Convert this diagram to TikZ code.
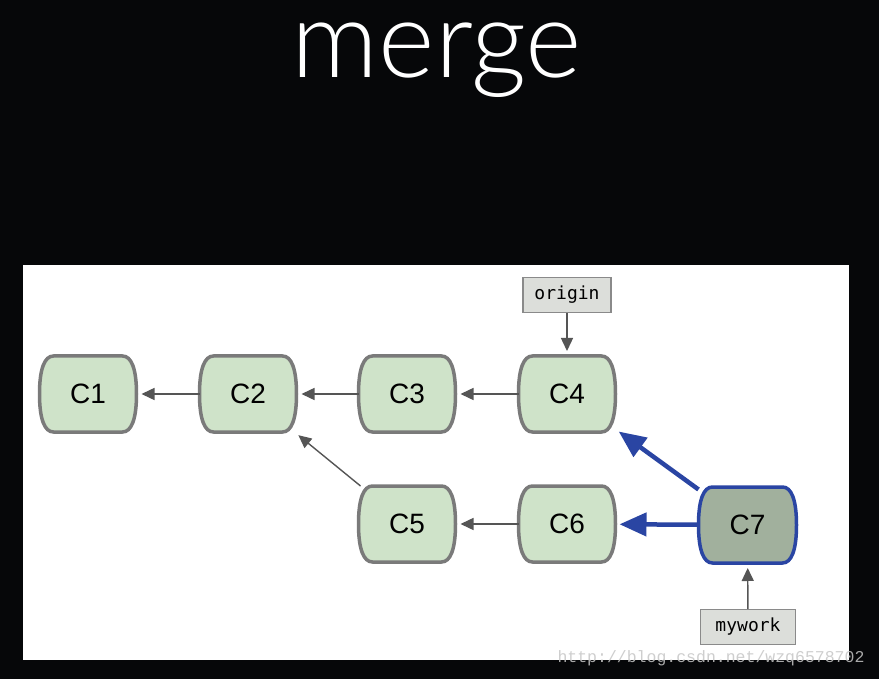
\documentclass[tikz,border=0pt]{standalone}
\usepackage{fontspec}
\setmainfont{Liberation Sans}
\newfontfamily\titlefont{Lato Light}
\newfontfamily\labelfont{DejaVu Sans Mono}
\newfontfamily\wmfont{Liberation Mono}
\usetikzlibrary{arrows.meta}
\definecolor{bg}{HTML}{060709}
\definecolor{commitfill}{HTML}{CFE3C9}
\definecolor{commitborder}{HTML}{7A7A7A}
\definecolor{headfill}{HTML}{A1B09D}
\definecolor{blueline}{HTML}{2A45A3}
\definecolor{grayarrow}{HTML}{555555}
\definecolor{labelfill}{HTML}{DCDEDA}
\definecolor{labelborder}{HTML}{8A8A8A}
\definecolor{wmgray}{HTML}{C6C6C6}
\newdimen\brlxa \newdimen\brlya \newdimen\brlxb \newdimen\brlyb \newdimen\brlym
\makeatletter
\pgfdeclareshape{barrel}{
  \inheritsavedanchors[from=rectangle]
  \inheritanchorborder[from=rectangle]
  \inheritanchor[from=rectangle]{center}
  \inheritanchor[from=rectangle]{north}
  \inheritanchor[from=rectangle]{south}
  \inheritanchor[from=rectangle]{east}
  \inheritanchor[from=rectangle]{west}
  \inheritanchor[from=rectangle]{north east}
  \inheritanchor[from=rectangle]{north west}
  \inheritanchor[from=rectangle]{south east}
  \inheritanchor[from=rectangle]{south west}
  \inheritanchor[from=rectangle]{mid}
  \inheritanchor[from=rectangle]{base}
  \backgroundpath{
    \southwest \brlxa=\pgf@x \brlya=\pgf@y
    \northeast \brlxb=\pgf@x \brlyb=\pgf@y
    \brlym=.5\brlya \advance\brlym by .5\brlyb
    \pgfpathmoveto{\pgfpoint{\brlxa+14pt}{\brlyb}}
    \pgfpathlineto{\pgfpoint{\brlxb-14pt}{\brlyb}}
    \pgfpathcurveto{\pgfpoint{\brlxb-5pt}{\brlyb}}{\pgfpoint{\brlxb}{\brlyb-13pt}}{\pgfpoint{\brlxb}{\brlym}}
    \pgfpathcurveto{\pgfpoint{\brlxb}{\brlya+13pt}}{\pgfpoint{\brlxb-5pt}{\brlya}}{\pgfpoint{\brlxb-14pt}{\brlya}}
    \pgfpathlineto{\pgfpoint{\brlxa+14pt}{\brlya}}
    \pgfpathcurveto{\pgfpoint{\brlxa+5pt}{\brlya}}{\pgfpoint{\brlxa}{\brlya+13pt}}{\pgfpoint{\brlxa}{\brlym}}
    \pgfpathcurveto{\pgfpoint{\brlxa}{\brlyb-13pt}}{\pgfpoint{\brlxa+5pt}{\brlyb}}{\pgfpoint{\brlxa+14pt}{\brlyb}}
    \pgfpathclose
  }
}
\makeatother
\tikzset{
  commit/.style={barrel, draw=commitborder, line width=3.5pt, fill=commitfill, outer sep=0pt,
    minimum width=97pt, minimum height=76pt, inner sep=0pt, font=\fontsize{28}{28}\selectfont},
  headcommit/.style={commit, draw=blueline, fill=headfill},
  reflabel/.style={draw=labelborder, fill=labelfill, line width=1.2pt, minimum width=88pt,
    minimum height=35pt, inner sep=0pt, font=\labelfont\fontsize{18}{18}\selectfont},
  parentarrow/.style={draw=grayarrow, line width=1.4pt, shorten >=5pt,
    -{Triangle[length=13pt,width=12pt]}},
  mergearrow/.style={draw=blueline, line width=4.5pt, shorten >=4pt,
    -{Triangle[length=27pt,width=23pt]}}
}
\begin{document}
\begin{tikzpicture}[x=1pt,y=-1pt]
\useasboundingbox (0,0) rectangle (879,679);
\fill[bg] (0,0) rectangle (879,679);
\fill[white] (23,265) rectangle (849,660);
\node[text=white, inner sep=0pt, anchor=base, text height=0.55em, text depth=0.2em,
  font=\titlefont\fontsize{108}{108}\selectfont] (title) at (437,78) {merge};

\node[commit] (C1) at (88,394) {C1};
\node[commit] (C2) at (248,394) {C2};
\node[commit] (C3) at (407,394) {C3};
\node[commit] (C4) at (567,394) {C4};
\node[commit] (C5) at (407,524) {C5};
\node[commit] (C6) at (567,524) {C6};
\node[headcommit, minimum width=98pt] (C7) at (747.5,525) {C7};

\node[reflabel] (origin) at (567,295) {origin};
\node[reflabel, minimum width=95pt] (mywork) at (748,627) {mywork};

\draw[parentarrow] (C2) -- (C1);
\draw[parentarrow] (C3) -- (C2);
\draw[parentarrow] (C4) -- (C3);
\draw[parentarrow] (C6) -- (C5);
\draw[parentarrow] (C5) -- (C2);
\draw[parentarrow] (origin) -- (C4);
\draw[parentarrow] (mywork) -- (C7);
\draw[mergearrow] (C7) -- (C6);
\draw[mergearrow] (C7) -- (C4);

\node[text=wmgray, opacity=0.85, inner sep=0pt, font=\wmfont\fontsize{16.5}{16.5}\selectfont] (wm) at (711,658) {http://blog.csdn.net/wzq6578702};
\end{tikzpicture}
\end{document}
